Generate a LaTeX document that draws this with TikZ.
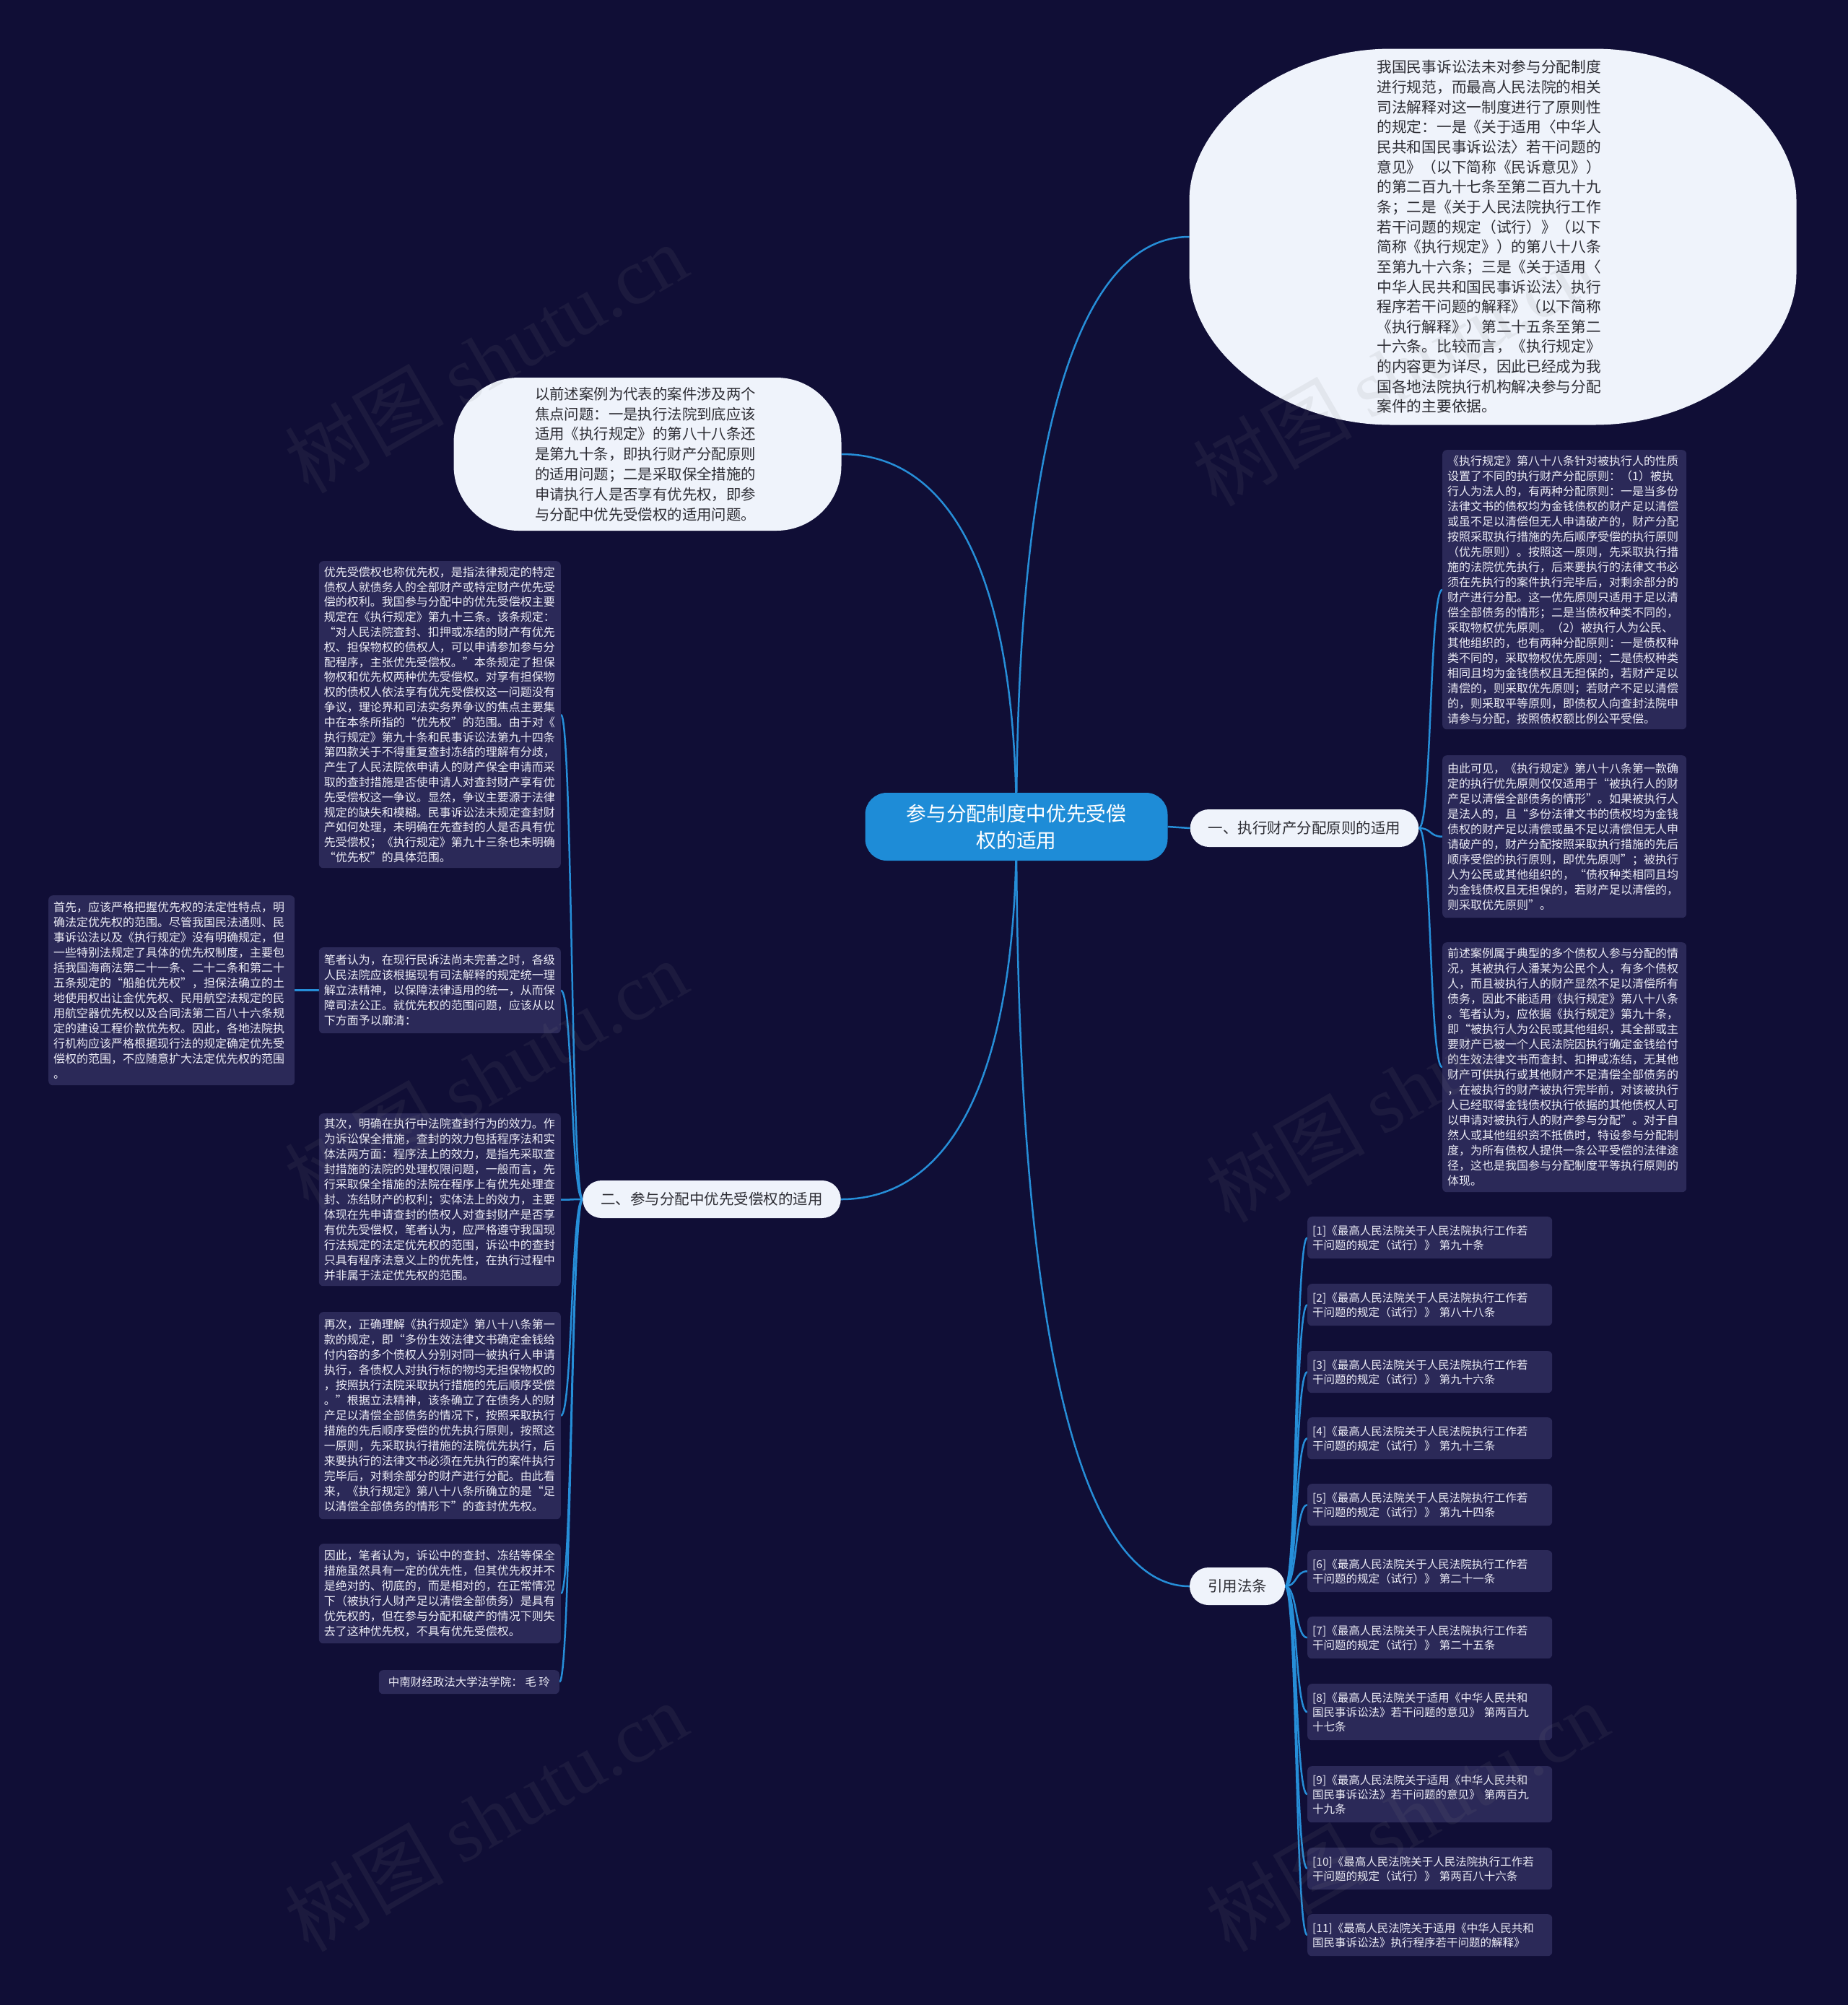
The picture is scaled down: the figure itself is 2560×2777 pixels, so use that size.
\documentclass[tikz,border=0pt]{standalone}
\usepackage{fontspec}
\setmainfont{Noto Sans CJK SC}
\newfontfamily\wmfont{Liberation Serif}
\usetikzlibrary{calc}
\definecolor{bgc}{RGB}{16,14,54}
\definecolor{boxc}{RGB}{43,41,88}
\definecolor{boxtext}{RGB}{236,236,246}
\definecolor{lightc}{RGB}{239,243,251}
\definecolor{darktext}{RGB}{45,45,52}
\definecolor{rootc}{RGB}{30,140,215}
\definecolor{connc}{RGB}{38,142,216}
\pgfdeclarelayer{bglayer}\pgfdeclarelayer{connlayer}\pgfdeclarelayer{fglayer}
\pgfsetlayers{bglayer,connlayer,main,fglayer}
\begin{document}
\begin{tikzpicture}[x=1pt,y=-1pt,
  darkbox/.style={fill=boxc, text=boxtext, rounded corners=6pt, inner xsep=7pt, inner ysep=4pt, align=left, font=\fontsize{16}{21}\selectfont},
  leftbox/.style={darkbox, anchor=north east, text width=321pt},
  rightbox/.style={darkbox, anchor=north west, text width=324pt},
  refbox/.style={darkbox, anchor=north west, text width=325pt, font=\fontsize{15.5}{20}\selectfont, minimum height=58pt},
  rootnode/.style={fill=rootc, text=white, rounded corners=30pt, minimum width=419pt, minimum height=94pt, align=center, font=\fontsize{27.7}{37}\selectfont},
  lvl/.style={fill=lightc, text=darktext, rounded corners=26pt, inner xsep=25pt, minimum height=52pt, font=\fontsize{20.5}{24}\selectfont},
  conn/.style={draw=connc, line width=2.5pt},
  wm/.style={text=gray, opacity=0.11, rotate=30, font=\fontsize{110}{120}\selectfont}
]
\begin{pgfonlayer}{bglayer}
\fill[bgc] (0,0) rectangle (2560,2777);
\end{pgfonlayer}
\useasboundingbox (0,0) rectangle (2560,2777);

% root and level-1
\node[rootnode] (root) at (1408,1145) {参与分配制度中优先受偿\\权的适用};
\node[lvl] (n1) at (1807,1147) {一、执行财产分配原则的适用};
\node[lvl] (n2) at (986,1661) {二、参与分配中优先受偿权的适用};
\node[lvl] (n3) at (1714,2197) {引用法条};

% big ellipse
\coordinate (ellc) at (2068,328);
\fill[lightc, shift={(ellc)}] (-140.5,-260.5) -- (140.5,-260.5)
  .. controls (295,-260.5) and (420.5,-156) .. (420.5,-50.5)
  -- (420.5,50.5)
  .. controls (420.5,156) and (295,260.5) .. (140.5,260.5)
  -- (-140.5,260.5)
  .. controls (-295,260.5) and (-420.5,156) .. (-420.5,50.5)
  -- (-420.5,-50.5)
  .. controls (-420.5,-156) and (-295,-260.5) .. (-140.5,-260.5) -- cycle;
\coordinate (ellW) at ($(ellc)+(-420.5,0)$);
\node[text=darktext, align=left, text width=315pt, font=\fontsize{20.7}{27.65}\selectfont] (ell) at (2065,328) {%
我国民事诉讼法未对参与分配制度\\%
进行规范，而最高人民法院的相关\\%
司法解释对这一制度进行了原则性\\%
的规定：一是《关于适用〈中华人\\%
民共和国民事诉讼法〉若干问题的\\%
意见》（以下简称《民诉意见》）\\%
的第二百九十七条至第二百九十九\\%
条；二是《关于人民法院执行工作\\%
若干问题的规定（试行）》（以下\\%
简称《执行规定》）的第八十八条\\%
至第九十六条；三是《关于适用〈\\%
中华人民共和国民事诉讼法〉执行\\%
程序若干问题的解释》（以下简称\\%
《执行解释》）第二十五条至第二\\%
十六条。比较而言，《执行规定》\\%
的内容更为详尽，因此已经成为我\\%
国各地法院执行机构解决参与分配\\%
案件的主要依据。};

% bubble
\node[fill=lightc, text=darktext, rounded corners=90pt, minimum width=537pt, minimum height=212pt, align=left, text width=312pt, font=\fontsize{20.4}{27.8}\selectfont] (bub) at (897,629) {%
以前述案例为代表的案件涉及两个\\%
焦点问题：一是执行法院到底应该\\%
适用《执行规定》的第八十八条还\\%
是第九十条，即执行财产分配原则\\%
的适用问题；二是采取保全措施的\\%
申请执行人是否享有优先权，即参\\%
与分配中优先受偿权的适用问题。};

% left column
\node[leftbox, minimum height=425pt, font=\fontsize{16}{20.8}\selectfont] (lb1) at (777,777) {%
优先受偿权也称优先权，是指法律规定的特定\\%
债权人就债务人的全部财产或特定财产优先受\\%
偿的权利。我国参与分配中的优先受偿权主要\\%
规定在《执行规定》第九十三条。该条规定：\\%
“对人民法院查封、扣押或冻结的财产有优先\\%
权、担保物权的债权人，可以申请参加参与分\\%
配程序，主张优先受偿权。”本条规定了担保\\%
物权和优先权两种优先受偿权。对享有担保物\\%
权的债权人依法享有优先受偿权这一问题没有\\%
争议，理论界和司法实务界争议的焦点主要集\\%
中在本条所指的“优先权”的范围。由于对《\\%
执行规定》第九十条和民事诉讼法第九十四条\\%
第四款关于不得重复查封冻结的理解有分歧，\\%
产生了人民法院依申请人的财产保全申请而采\\%
取的查封措施是否使申请人对查封财产享有优\\%
先受偿权这一争议。显然，争议主要源于法律\\%
规定的缺失和模糊。民事诉讼法未规定查封财\\%
产如何处理，未明确在先查封的人是否具有优\\%
先受偿权；《执行规定》第九十三条也未明确\\%
“优先权”的具体范围。};

\node[leftbox, minimum height=119pt] (lb2) at (777,1312) {%
笔者认为，在现行民诉法尚未完善之时，各级\\%
人民法院应该根据现有司法解释的规定统一理\\%
解立法精神，以保障法律适用的统一，从而保\\%
障司法公正。就优先权的范围问题，应该从以\\%
下方面予以廓清：};

\node[darkbox, anchor=north west, text width=327pt, minimum height=263pt] (fl) at (67,1240) {%
首先，应该严格把握优先权的法定性特点，明\\%
确法定优先权的范围。尽管我国民法通则、民\\%
事诉讼法以及《执行规定》没有明确规定，但\\%
一些特别法规定了具体的优先权制度，主要包\\%
括我国海商法第二十一条、二十二条和第二十\\%
五条规定的“船舶优先权”，担保法确立的土\\%
地使用权出让金优先权、民用航空法规定的民\\%
用航空器优先权以及合同法第二百八十六条规\\%
定的建设工程价款优先权。因此，各地法院执\\%
行机构应该严格根据现行法的规定确定优先受\\%
偿权的范围，不应随意扩大法定优先权的范围\\%
。};

\node[leftbox, minimum height=239pt] (lb3) at (777,1542) {%
其次，明确在执行中法院查封行为的效力。作\\%
为诉讼保全措施，查封的效力包括程序法和实\\%
体法两方面：程序法上的效力，是指先采取查\\%
封措施的法院的处理权限问题，一般而言，先\\%
行采取保全措施的法院在程序上有优先处理查\\%
封、冻结财产的权利；实体法上的效力，主要\\%
体现在先申请查封的债权人对查封财产是否享\\%
有优先受偿权，笔者认为，应严格遵守我国现\\%
行法规定的法定优先权的范围，诉讼中的查封\\%
只具有程序法意义上的优先性，在执行过程中\\%
并非属于法定优先权的范围。};

\node[leftbox, minimum height=287pt] (lb4) at (777,1817) {%
再次，正确理解《执行规定》第八十八条第一\\%
款的规定，即“多份生效法律文书确定金钱给\\%
付内容的多个债权人分别对同一被执行人申请\\%
执行，各债权人对执行标的物均无担保物权的\\%
，按照执行法院采取执行措施的先后顺序受偿\\%
。”根据立法精神，该条确立了在债务人的财\\%
产足以清偿全部债务的情况下，按照采取执行\\%
措施的先后顺序受偿的优先执行原则，按照这\\%
一原则，先采取执行措施的法院优先执行，后\\%
来要执行的法律文书必须在先执行的案件执行\\%
完毕后，对剩余部分的财产进行分配。由此看\\%
来，《执行规定》第八十八条所确立的是“足\\%
以清偿全部债务的情形下”的查封优先权。};

\node[leftbox, minimum height=138pt] (lb5) at (777,2138) {%
因此，笔者认为，诉讼中的查封、冻结等保全\\%
措施虽然具有一定的优先性，但其优先权并不\\%
是绝对的、彻底的，而是相对的，在正常情况\\%
下（被执行人财产足以清偿全部债务）是具有\\%
优先权的，但在参与分配和破产的情况下则失\\%
去了这种优先权，不具有优先受偿权。};

\node[darkbox, anchor=north east, minimum height=33pt, minimum width=250pt, inner ysep=2pt, font=\fontsize{15.5}{20}\selectfont] (lb6) at (775,2313) {中南财经政法大学法学院： 毛 玲};

% right column
\node[rightbox, minimum height=387pt] (r1) at (1998,623) {%
《执行规定》第八十八条针对被执行人的性质\\%
设置了不同的执行财产分配原则：（1）被执\\%
行人为法人的，有两种分配原则：一是当多份\\%
法律文书的债权均为金钱债权的财产足以清偿\\%
或虽不足以清偿但无人申请破产的，财产分配\\%
按照采取执行措施的先后顺序受偿的执行原则\\%
（优先原则）。按照这一原则，先采取执行措\\%
施的法院优先执行，后来要执行的法律文书必\\%
须在先执行的案件执行完毕后，对剩余部分的\\%
财产进行分配。这一优先原则只适用于足以清\\%
偿全部债务的情形；二是当债权种类不同的，\\%
采取物权优先原则。（2）被执行人为公民、\\%
其他组织的，也有两种分配原则：一是债权种\\%
类不同的，采取物权优先原则；二是债权种类\\%
相同且均为金钱债权且无担保的，若财产足以\\%
清偿的，则采取优先原则；若财产不足以清偿\\%
的，则采取平等原则，即债权人向查封法院申\\%
请参与分配，按照债权额比例公平受偿。};

\node[rightbox, minimum height=225pt] (r2) at (1998,1046) {%
由此可见，《执行规定》第八十八条第一款确\\%
定的执行优先原则仅仅适用于“被执行人的财\\%
产足以清偿全部债务的情形”。如果被执行人\\%
是法人的，且“多份法律文书的债权均为金钱\\%
债权的财产足以清偿或虽不足以清偿但无人申\\%
请破产的，财产分配按照采取执行措施的先后\\%
顺序受偿的执行原则，即优先原则”；被执行\\%
人为公民或其他组织的，“债权种类相同且均\\%
为金钱债权且无担保的，若财产足以清偿的，\\%
则采取优先原则”。};

\node[rightbox, minimum height=346pt] (r3) at (1998,1305) {%
前述案例属于典型的多个债权人参与分配的情\\%
况，其被执行人潘某为公民个人，有多个债权\\%
人，而且被执行人的财产显然不足以清偿所有\\%
债务，因此不能适用《执行规定》第八十八条\\%
。笔者认为，应依据《执行规定》第九十条，\\%
即“被执行人为公民或其他组织，其全部或主\\%
要财产已被一个人民法院因执行确定金钱给付\\%
的生效法律文书而查封、扣押或冻结，无其他\\%
财产可供执行或其他财产不足清偿全部债务的\\%
，在被执行的财产被执行完毕前，对该被执行\\%
人已经取得金钱债权执行依据的其他债权人可\\%
以申请对被执行人的财产参与分配”。对于自\\%
然人或其他组织资不抵债时，特设参与分配制\\%
度，为所有债权人提供一条公平受偿的法律途\\%
径，这也是我国参与分配制度平等执行原则的\\%
体现。};

% references
\node[refbox] (f1) at (1811,1685) {[1]《最高人民法院关于人民法院执行工作若\\干问题的规定（试行）》 第九十条};
\node[refbox] (f2) at (1811,1778) {[2]《最高人民法院关于人民法院执行工作若\\干问题的规定（试行）》 第八十八条};
\node[refbox] (f3) at (1811,1871) {[3]《最高人民法院关于人民法院执行工作若\\干问题的规定（试行）》 第九十六条};
\node[refbox] (f4) at (1811,1963) {[4]《最高人民法院关于人民法院执行工作若\\干问题的规定（试行）》 第九十三条};
\node[refbox] (f5) at (1811,2055) {[5]《最高人民法院关于人民法院执行工作若\\干问题的规定（试行）》 第九十四条};
\node[refbox] (f6) at (1811,2147) {[6]《最高人民法院关于人民法院执行工作若\\干问题的规定（试行）》 第二十一条};
\node[refbox] (f7) at (1811,2239) {[7]《最高人民法院关于人民法院执行工作若\\干问题的规定（试行）》 第二十五条};
\node[refbox, minimum height=78pt] (f8) at (1811,2332) {[8]《最高人民法院关于适用《中华人民共和\\国民事诉讼法》若干问题的意见》 第两百九\\十七条};
\node[refbox, minimum height=78pt] (f9) at (1811,2446) {[9]《最高人民法院关于适用《中华人民共和\\国民事诉讼法》若干问题的意见》 第两百九\\十九条};
\node[refbox] (f10) at (1811,2559) {[10]《最高人民法院关于人民法院执行工作若\\干问题的规定（试行）》 第两百八十六条};
\node[refbox] (f11) at (1811,2651) {[11]《最高人民法院关于适用《中华人民共和\\国民事诉讼法》执行程序若干问题的解释》};

% connectors
\begin{pgfonlayer}{connlayer}
\foreach \t in {ellW, bub.east, n2.east, n3.west}{
  \draw[conn] (root.center) .. controls ($(root.center)!0.7!(root.center |- \t)$) and ($(\t)!0.6!(root.center |- \t)$) .. (\t);
}
\draw[conn] (root.east) -- (n1.west);
\foreach \b in {r1,r2,r3}{
  \draw[conn] (n1.east) .. controls +(18,0) and +(-18,0) .. (\b.west);
}
\foreach \b in {lb1,lb2,lb3,lb4,lb5,lb6}{
  \draw[conn] (n2.west) .. controls +(-16,0) and +(16,0) .. (\b.east);
}
\foreach \b in {f1,f2,f3,f4,f5,f6,f7,f8,f9,f10,f11}{
  \draw[conn] (n3.east) .. controls +(17,0) and +(-17,0) .. (\b.west);
}
\draw[conn] (lb2.west) .. controls +(-15,0) and +(15,0) .. (fl.east);
\end{pgfonlayer}

% watermarks
\begin{pgfonlayer}{fglayer}
\foreach \wx/\wy/\i in {673/496/1, 1931/514/2, 673/1488/3, 1949/1506/4, 673/2516/5, 1949/2516/6}{
  \node[wm] (wm\i) at (\wx,\wy) {树图 {\wmfont shutu.cn}};
}
\end{pgfonlayer}
\end{tikzpicture}
\end{document}
